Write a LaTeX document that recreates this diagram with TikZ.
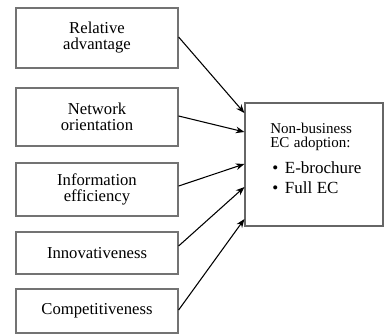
\documentclass[tikz,border=0pt]{standalone}
\usepackage{fontspec}
\setmainfont{LiberationSerif}[Extension=.ttf, UprightFont=*-Regular, BoldFont=*-Bold, ItalicFont=*-Italic, BoldItalicFont=*-BoldItalic]
\usetikzlibrary{arrows.meta}
\begin{document}
\begin{tikzpicture}[x=0.75pt,y=-0.75pt,
  lbox/.style={draw=black!55, line width=0.9pt, minimum width=121.5pt, inner sep=0pt,
    align=center, font=\rmfamily\fontsize{12.5}{12}\selectfont},
  arr/.style={-{Stealth[length=6.5pt,width=5pt]}, line width=0.8pt, black}]
\useasboundingbox (0,0) rectangle (384,335);
\node[lbox, minimum height=45pt]    (b1) at (97,38)    {Relative\\advantage};
\node[lbox, minimum height=43.5pt]  (b2) at (97,117)   {Network\\orientation};
\node[lbox, minimum height=39.75pt] (b3) at (97,189.5) {Information\\efficiency};
\node[lbox, minimum height=31.5pt]  (b4) at (97,253)   {Innovativeness};
\node[lbox, minimum height=33pt]    (b5) at (97,311)   {Competitiveness};
\node[draw=black!60, line width=0.9pt, minimum width=103.5pt, minimum height=92.25pt, inner sep=0pt] (r) at (314,164.5) {};
\node[anchor=north west, inner sep=0pt, text width=80pt, font=\rmfamily] (txt) at (270,122.7)
  {\fontsize{11.25}{10.5}\selectfont Non-business\par EC adoption:\par\vspace{4.5pt}%
   \fontsize{12.75}{15}\selectfont
   \makebox[11pt][l]{\hspace{1.5pt}\textbullet}E-brochure\par
   \makebox[11pt][l]{\hspace{1.5pt}\textbullet}Full EC\par};
\draw[arr] ([yshift=0.75pt]b1.east) -- ([yshift=38.6pt]r.west);
\draw[arr] ([yshift=0.75pt]b2.east) -- ([yshift=24.4pt]r.west);
\draw[arr] ([yshift=2.6pt]b3.east)  -- ([yshift=0.4pt]r.west);
\draw[arr] ([yshift=5.25pt]b4.east) -- ([yshift=-16.9pt]r.west);
\draw[arr] ([yshift=0.75pt]b5.east) -- ([yshift=-40.9pt]r.west);
\end{tikzpicture}
\end{document}
